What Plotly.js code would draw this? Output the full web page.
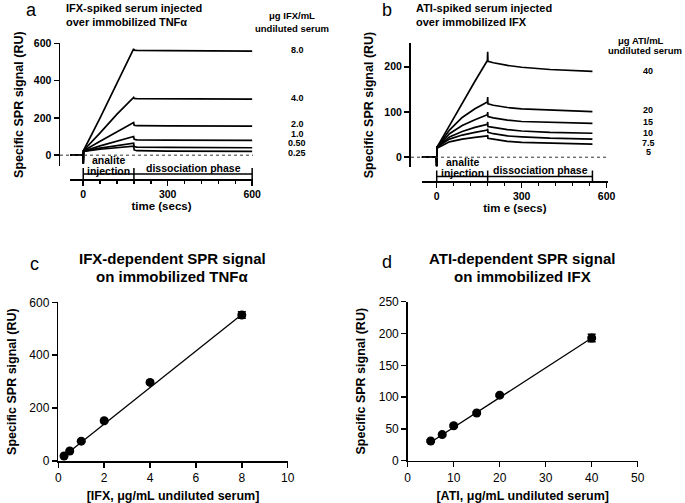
<!DOCTYPE html>
<html lang="en">
<head>
<meta charset="UTF-8">
<meta name="viewport" content="width=device-width, initial-scale=1.0">
<title>IFX and ATI SPR signals</title>
<script src="https://cdn.plot.ly/plotly-3.0.1.min.js"></script>
<style>body{margin:0;background:#fff}</style>
</head>
<body>
<div id="plot"></div>
<script>
// ---- panel a: IFX-spiked serum over immobilized TNFa (sensorgrams, RU vs secs)
const tA = [-47, -1, 0, 1, 60, 120, 179, 181, 190, 300, 400, 500, 600];
const concA = ['8.0', '4.0', '2.0', '1.0', '0.50', '0.25'];
const sgA = [
  [0, 0, -45, 25, 200, 385, 570, 563, 562, 561, 560, 559, 558],
  [0, 0, -45, 25, 120, 220, 310, 304, 303, 302, 302, 301, 301],
  [0, 0, -45, 24, 75, 125, 175, 160, 158, 157, 157, 156, 156],
  [0, 0, -45, 22, 50, 77, 100, 85, 82, 81, 80, 80, 79],
  [0, 0, -45, 22, 38, 52, 64, 46, 43, 42, 41, 41, 40],
  [0, 0, -45, 20, 32, 41, 48, 28, 24, 22, 21, 21, 20]
];
const phasesA = [0, 180, 600];

// ---- panel b: ATI-spiked serum over immobilized IFX
const tB = [-53, -1, 0, 1, 45, 90, 135, 179, 180, 181, 200, 250, 300, 400, 550];
const concB = ['40', '20', '15', '10', '7.5', '5'];
const sgB = [
  [0, 0, -20, 22, 70, 120, 168, 214, 233, 212, 209, 203, 199, 194, 190],
  [0, 0, -20, 22, 60, 88, 107, 122, 133, 118, 115, 110, 107, 104, 101],
  [0, 0, -20, 22, 52, 70, 83, 94, 100, 90, 87, 82, 79, 77, 75],
  [0, 0, -20, 22, 45, 57, 66, 73, 78, 68, 66, 61, 58, 55, 53],
  [0, 0, -20, 22, 40, 49, 55, 60, 63, 55, 52, 47, 45, 42, 40],
  [0, 0, -20, 20, 34, 40, 44, 47, 49, 42, 40, 35, 33, 31, 29]
];
const phasesB = [0, 180, 550];

// ---- panel c: IFX dose response
const ifxConc = [0.25, 0.5, 1, 2, 4, 8];
const ifxSignal = [19, 38, 75, 152, 297, 552];
const ifxErr = [3, 3, 3, 4, 5, 12];
const ifxFitX = [0.25, 8];
const ifxFitY = [19, 554];

// ---- panel d: ATI dose response
const atiConc = [5, 7.5, 10, 15, 20, 40];
const atiSignal = [31, 41, 55, 75, 103, 193];
const atiErr = [2, 2, 2, 2, 2, 6];
const atiFitX = [5, 40];
const atiFitY = [29, 193];

// label heights next to the sensorgrams (RU)
const labelPosA = [562, 305, 168, 116, 65, 10];
const labelPosB = [190, 104, 77, 53, 32, 12];

// pixel -> paper helpers
const W = 685, H = 503;
const px = v => v / W;
const py = v => 1 - v / H;

const FONT = 'Liberation Sans, Arial, sans-serif';
const boldF = (size) => ({family: FONT, size: size, color: '#000', weight: 'bold'});

const traces = [];
sgA.forEach((ys, i) => traces.push({
  x: tA, y: ys, xaxis: 'x', yaxis: 'y', type: 'scatter', mode: 'lines',
  line: {color: '#000', width: 1.7}, name: concA[i], showlegend: false
}));
sgB.forEach((ys, i) => traces.push({
  x: tB, y: ys, xaxis: 'x2', yaxis: 'y2', type: 'scatter', mode: 'lines',
  line: {color: '#000', width: 1.7}, name: concB[i], showlegend: false
}));
traces.push({
  x: ifxFitX, y: ifxFitY, xaxis: 'x3', yaxis: 'y3', type: 'scatter', mode: 'lines',
  line: {color: '#000', width: 1.3}, showlegend: false
});
traces.push({
  x: ifxConc, y: ifxSignal, xaxis: 'x3', yaxis: 'y3', type: 'scatter', mode: 'markers',
  marker: {color: '#000', size: 9},
  error_y: {type: 'data', array: ifxErr, color: '#000', thickness: 1.5, width: 4},
  showlegend: false
});
traces.push({
  x: atiFitX, y: atiFitY, xaxis: 'x4', yaxis: 'y4', type: 'scatter', mode: 'lines',
  line: {color: '#000', width: 1.3}, showlegend: false
});
traces.push({
  x: atiConc, y: atiSignal, xaxis: 'x4', yaxis: 'y4', type: 'scatter', mode: 'markers',
  marker: {color: '#000', size: 9},
  error_y: {type: 'data', array: atiErr, color: '#000', thickness: 1.5, width: 4},
  showlegend: false
});

// top-row axes (Prism style: offset axes)
const topX = (dom, rng, pos, ttl) => ({
  domain: dom, range: rng, anchor: 'free', position: pos,
  showline: true, linecolor: '#000', linewidth: 1.5, showgrid: false, zeroline: false,
  tickvals: [0, 300, 600], ticks: 'outside', ticklen: 5, tickwidth: 1.5, tickcolor: '#000',
  minor: {dtick: 60, ticks: 'outside', ticklen: 3, tickcolor: '#000'},
  tickfont: boldF(10.5),
  title: {text: ttl, font: boldF(11.5), standoff: 3}
});
const topY = (dom, rng, pos, vals) => ({
  domain: dom, range: rng, anchor: 'free', position: pos,
  showline: true, linecolor: '#000', linewidth: 1.5, showgrid: false, zeroline: false,
  tickvals: vals, ticks: 'outside', ticklen: 5, tickwidth: 1.5, tickcolor: '#000',
  tickfont: boldF(10.5),
  title: {text: 'Specific SPR signal (RU)', font: boldF(12.5), standoff: 6}
});
const botX = (dom, rng, dt, ttl) => ({
  domain: dom, range: rng,
  showline: true, linecolor: '#000', linewidth: 1.5, showgrid: false, zeroline: false,
  dtick: dt, ticks: 'outside', ticklen: 5, tickwidth: 1.5, tickcolor: '#000',
  tickfont: {family: FONT, size: 12, color: '#000'},
  title: {text: ttl, font: boldF(12.5), standoff: 14}
});
const botY = (dom, rng, dt) => ({
  domain: dom, range: rng,
  showline: true, linecolor: '#000', linewidth: 1.5, showgrid: false, zeroline: false,
  dtick: dt, ticks: 'outside', ticklen: 5, tickwidth: 1.5, tickcolor: '#000',
  tickfont: {family: FONT, size: 12, color: '#000'},
  title: {text: 'Specific SPR signal (RU)', font: boldF(12.5), standoff: 10}
});

const xa = topX([px(70), px(253)], [-47, 603], py(179), 'time (secs)');
const ya = topY([py(166), py(43.3)], [-58, 600], px(58.5), [0, 200, 400, 600]);
const xb = topX([px(421.7), px(608)], [-53, 605], py(181), 'tim e (secs)');
const yb = topY([py(166.7), py(43.3)], [-21, 252], px(409), [0, 100, 200]);
const xc = botX([px(58.3), px(287.7)], [0, 10], 2, '[IFX, μg/mL undiluted serum]');
xc.anchor = 'y3';
const yc = botY([py(461), py(302.3)], [0, 600], 200);
yc.anchor = 'x3';
const xd = botX([px(407.7), px(637.7)], [0, 50], 10, '[ATI, μg/mL undiluted serum]');
xd.anchor = 'y4';
const yd = botY([py(460.7), py(301.7)], [0, 250], 50);
yd.anchor = 'x4';

// phase brackets under the sensorgrams
function bracket(xref, phases, yLine) {
  const s = [{type: 'line', xref: xref, yref: 'paper', x0: phases[0], x1: phases[2],
              y0: py(yLine), y1: py(yLine), line: {color: '#000', width: 1.5}}];
  phases.forEach(p => s.push({type: 'line', xref: xref, yref: 'paper', x0: p, x1: p,
              y0: py(yLine - 6), y1: py(yLine + 6), line: {color: '#000', width: 1.5}}));
  return s;
}
const shapes = [
  {type: 'line', xref: 'paper', yref: 'y', x0: px(60), x1: px(253), y0: 0, y1: 0,
   line: {color: '#333', width: 1, dash: 'dot'}},
  {type: 'line', xref: 'paper', yref: 'y2', x0: px(411), x1: px(608), y0: 0, y1: 0,
   line: {color: '#333', width: 1, dash: 'dot'}}
].concat(bracket('x', phasesA, 174), bracket('x2', phasesB, 176.5));

const ann = [];
const addText = (text, x, y, font, xanchor, xref, yref) => ann.push({
  text: text, x: x, y: y, xref: xref || 'paper', yref: yref || 'paper',
  xanchor: xanchor || 'center', yanchor: 'middle', showarrow: false, font: font
});
// panel letters and titles
addText('a', px(31), py(10), {family: FONT, size: 18, color: '#000'});
addText('IFX-spiked serum injected', px(64), py(8), boldF(11), 'left');
addText('over immobilized TNFα', px(64), py(22), boldF(11), 'left');
addText('b', px(387), py(10), {family: FONT, size: 18, color: '#000'});
addText('ATI-spiked serum injected', px(414), py(8), boldF(11), 'left');
addText('over immobilized IFX', px(414), py(22), boldF(11), 'left');
addText('c', px(34), py(264), {family: FONT, size: 18, color: '#000'});
addText('IFX-dependent SPR signal', px(172), py(258), boldF(15));
addText('on immobilized TNFα', px(172), py(276), boldF(15));
addText('d', px(387), py(262), {family: FONT, size: 18, color: '#000'});
addText('ATI-dependent SPR signal', px(522), py(258), boldF(15));
addText('on immobilized IFX', px(522), py(276), boldF(15));
// concentration labels
addText('μg IFX/mL', px(292), py(15), boldF(9.5));
addText('undiluted serum', px(292), py(29), boldF(9.5));
concA.forEach((c, i) => addText(c, px(297), labelPosA[i], boldF(9), 'center', 'paper', 'y'));
addText('μg ATI/mL', px(641), py(40), boldF(9.5));
addText('undiluted serum', px(645), py(50), boldF(9.5));
concB.forEach((c, i) => addText(c, px(648), labelPosB[i], boldF(9), 'center', 'paper', 'y2'));
// bracket captions
addText('analite', 90, py(160), boldF(10.5), 'center', 'x');
addText('injection', 90, py(170.5), boldF(10.5), 'center', 'x');
addText('dissociation phase', 390, py(168), boldF(10.5), 'center', 'x');
addText('analite', 90, py(162), boldF(10.5), 'center', 'x2');
addText('injection', 90, py(172.5), boldF(10.5), 'center', 'x2');
addText('dissociation phase', 365, py(170), boldF(10.5), 'center', 'x2');

const layout = {
  width: W, height: H, autosize: false,
  margin: {l: 0, r: 0, t: 0, b: 0},
  paper_bgcolor: '#fff', plot_bgcolor: 'rgba(0,0,0,0)',
  font: {family: FONT, color: '#000'},
  showlegend: false,
  xaxis: xa, yaxis: ya, xaxis2: xb, yaxis2: yb,
  xaxis3: xc, yaxis3: yc, xaxis4: xd, yaxis4: yd,
  shapes: shapes, annotations: ann
};

Plotly.newPlot('plot', traces, layout, {displayModeBar: false, staticPlot: true});
</script>
</body>
</html>
